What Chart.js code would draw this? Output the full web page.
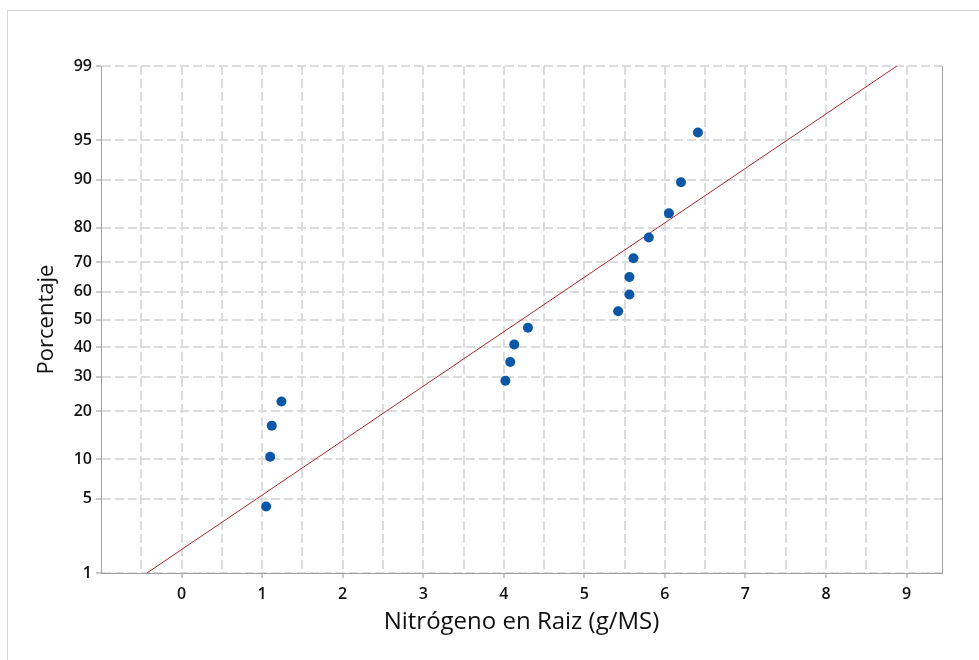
<!DOCTYPE html>
<html lang="es">
<head>
<meta charset="UTF-8">
<title>Gráfica de probabilidad - Nitrógeno en Raiz</title>
<script src="https://cdn.jsdelivr.net/npm/chart.js@4.4.0/dist/chart.umd.min.js"></script>
<style>
    body { margin: 0; background: #fff; }
    .marco { position: absolute; left: 7px; top: 10px; right: -2px; bottom: -2px; border: 1px solid #d4d4d4; }
    .contenedor { position: absolute; left: 0; top: 0; width: 979px; height: 660px; }
</style>
</head>
<body>
<div class="marco"></div>
<div class="contenedor"><canvas id="chart"></canvas></div>
<script>
    // Datos
    const nitrogeno = [1.05, 1.10, 1.12, 1.24, 4.02, 4.08, 4.13, 4.30, 5.42, 5.56, 5.56, 5.61, 5.80, 6.05, 6.20, 6.41];
    const porcentaje = [4.3, 10.4, 16.5, 22.6, 28.7, 34.8, 40.9, 47.0, 53.0, 59.1, 65.2, 71.3, 77.4, 83.5, 89.6, 95.7];

    // recta ajustada (extremos en 1% y 99%)
    const ajusteX = [-0.43, 8.88];
    const ajusteP = [1, 99];

    // marcas de los ejes
    const yTicks = [1, 5, 10, 20, 30, 40, 50, 60, 70, 80, 90, 95, 99];
    const xGrid = [-0.5, 0, 0.5, 1, 1.5, 2, 2.5, 3, 3.5, 4, 4.5, 5, 5.5, 6, 6.5, 7, 7.5, 8, 8.5, 9];
    const xMin = -1, xMax = 9.44;

    const fuente = "'Open Sans', 'Noto Sans', sans-serif";

    // inversa de la normal (Acklam) para la escala de probabilidad
    function probit(pct) {
        const p = pct / 100;
        const a = [-39.69683028665376, 220.9460984245205, -275.9285104469687, 138.3577518672690, -30.66479806614716, 2.506628277459239];
        const b = [-54.47609879822406, 161.5858368580409, -155.6989798598866, 66.80131188771972, -13.28068155288572];
        const c = [-0.007784894002430293, -0.3223964580411365, -2.400758277161838, -2.549732539343734, 4.374664141464968, 2.938163982698783];
        const d = [0.007784695709041462, 0.3224671290700398, 2.445134137142996, 3.754408661907416];
        const pl = 0.02425;
        let q, r;
        if (p < pl) {
            q = Math.sqrt(-2 * Math.log(p));
            return (((((c[0] * q + c[1]) * q + c[2]) * q + c[3]) * q + c[4]) * q + c[5]) / ((((d[0] * q + d[1]) * q + d[2]) * q + d[3]) * q + 1);
        }
        if (p > 1 - pl) {
            q = Math.sqrt(-2 * Math.log(1 - p));
            return -(((((c[0] * q + c[1]) * q + c[2]) * q + c[3]) * q + c[4]) * q + c[5]) / ((((d[0] * q + d[1]) * q + d[2]) * q + d[3]) * q + 1);
        }
        q = p - 0.5;
        r = q * q;
        return (((((a[0] * r + a[1]) * r + a[2]) * r + a[3]) * r + a[4]) * r + a[5]) * q / (((((b[0] * r + b[1]) * r + b[2]) * r + b[3]) * r + b[4]) * r + 1);
    }

    const puntos = nitrogeno.map((x, i) => ({ x: x, y: probit(porcentaje[i]) }));
    const recta = ajusteX.map((x, i) => ({ x: x, y: probit(ajusteP[i]) }));

    // borde derecho del area de trazado
    const bordeDerecho = {
        id: 'bordeDerecho',
        afterDraw(chart) {
            const a = chart.chartArea;
            const ctx = chart.ctx;
            ctx.save();
            ctx.strokeStyle = '#a0a0a0';
            ctx.lineWidth = 1;
            ctx.beginPath();
            ctx.moveTo(a.right + 0.5, a.top);
            ctx.lineTo(a.right + 0.5, a.bottom);
            ctx.stroke();
            ctx.restore();
        }
    };

    var ctx = document.getElementById("chart").getContext("2d");
    var chart = new Chart(ctx, {
        type: "scatter",
        data: {
            datasets: [{
                label: "Nitrógeno en Raiz",
                data: puntos,
                backgroundColor: "#0a57a8",
                borderWidth: 0,
                pointRadius: 5,
                order: 1
            }, {
                type: "line",
                label: "Ajuste",
                data: recta,
                borderColor: "#a8262c",
                borderWidth: 1,
                pointRadius: 0,
                fill: false,
                order: 2
            }]
        },
        options: {
            responsive: true,
            maintainAspectRatio: false,
            animation: false,
            events: [],
            layout: { padding: { top: 66, right: 37, left: 0, bottom: 0 } },
            plugins: { legend: { display: false }, tooltip: { enabled: false } },
            scales: {
                x: {
                    type: "linear",
                    min: xMin,
                    max: xMax,
                    afterBuildTicks: (scale) => { scale.ticks = xGrid.map(v => ({ value: v })); },
                    afterFit: (scale) => { scale.height = 87; },
                    ticks: {
                        autoSkip: false,
                        maxRotation: 0,
                        padding: 7,
                        color: "#111",
                        font: { family: fuente, size: 16, weight: "600" },
                        callback: (v) => Number.isInteger(v) ? String(v) : ""
                    },
                    grid: {
                        color: "#dcdcdc",
                        lineWidth: 2,
                        tickLength: 5,
                        tickWidth: 1,
                        tickBorderDash: [],
                        tickColor: (c) => (c.tick && Number.isInteger(c.tick.value)) ? "#909090" : "rgba(0,0,0,0)"
                    },
                    border: { display: true, color: "#a0a0a0", width: 1, dash: [9, 4] },
                    title: {
                        display: true,
                        text: "Nitrógeno en Raiz (g/MS)",
                        color: "#111",
                        font: { family: fuente, size: 24, weight: "500" },
                        padding: { top: 0, bottom: 23 }
                    }
                },
                y: {
                    type: "linear",
                    min: probit(1),
                    max: probit(99),
                    afterBuildTicks: (scale) => { scale.ticks = yTicks.map(p => ({ value: probit(p) })); },
                    afterFit: (scale) => { scale.width = 101; },
                    ticks: {
                        autoSkip: false,
                        padding: 4,
                        color: "#111",
                        font: { family: fuente, size: 16, weight: "600" },
                        callback: (v, i) => String(yTicks[i])
                    },
                    grid: {
                        color: "#dcdcdc",
                        lineWidth: 2,
                        tickLength: 5,
                        tickWidth: 1,
                        tickBorderDash: [],
                        tickColor: "#909090"
                    },
                    border: { display: true, color: "#a0a0a0", width: 1, dash: [9, 4] },
                    title: {
                        display: true,
                        text: "Porcentaje",
                        color: "#111",
                        font: { family: fuente, size: 22, weight: "500" },
                        padding: { top: 34, bottom: 0 }
                    }
                }
            }
        },
        plugins: [bordeDerecho]
    });
</script>
</body>
</html>
